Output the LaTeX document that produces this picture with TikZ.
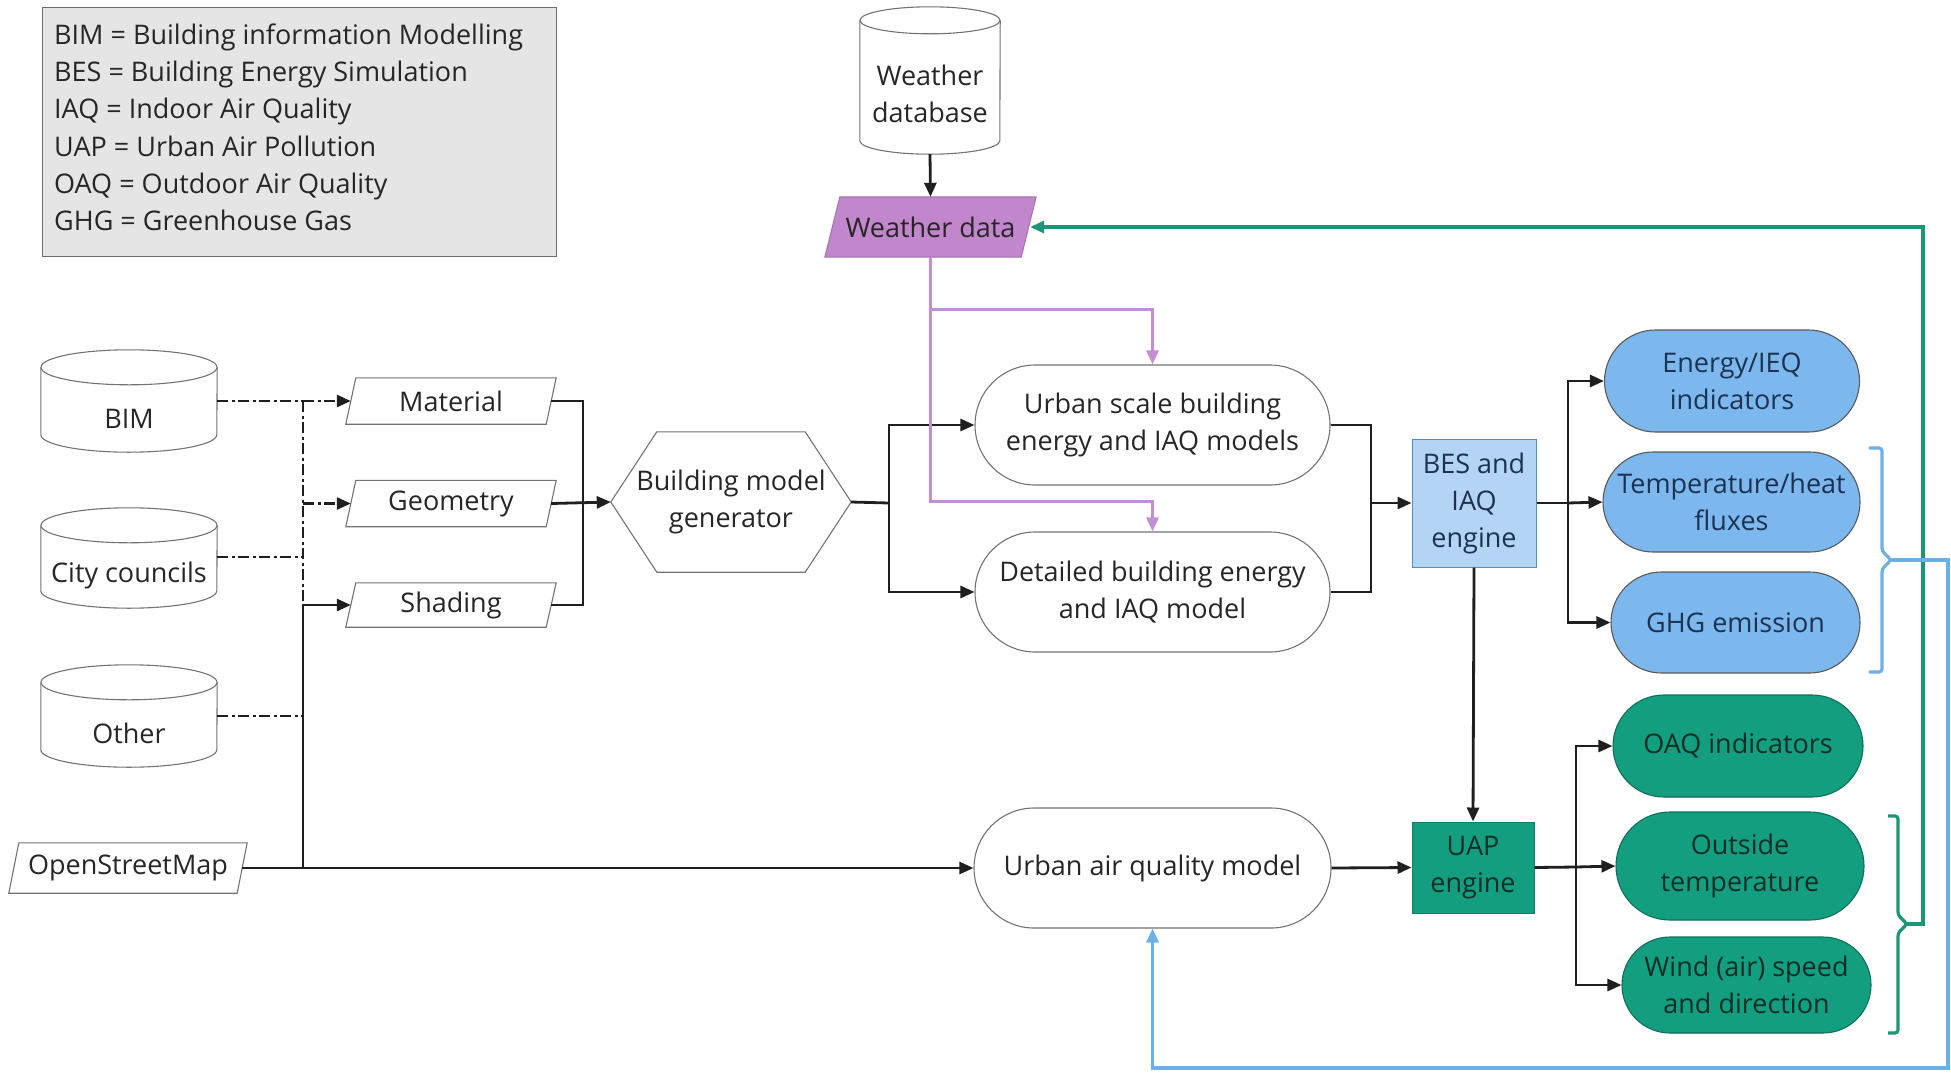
\documentclass[tikz,border=0pt]{standalone}
\usepackage{fontspec}
\setmainfont{Open Sans}
\usetikzlibrary{arrows.meta,shapes.misc,backgrounds}
\definecolor{txt}{RGB}{38,38,38}
\definecolor{legfill}{RGB}{229,229,229}
\definecolor{legdraw}{RGB}{110,110,110}
\definecolor{purpfill}{RGB}{193,134,204}
\definecolor{purpline}{RGB}{196,142,212}
\definecolor{bluefill}{RGB}{124,184,238}
\definecolor{bluebox}{RGB}{180,212,246}
\definecolor{blueline}{RGB}{108,176,232}
\definecolor{tealfill}{RGB}{20,158,128}
\definecolor{tealline}{RGB}{28,150,120}
\definecolor{graydraw}{RGB}{115,115,115}
\definecolor{bluetxt}{RGB}{28,50,80}
\definecolor{tealtxt}{RGB}{18,45,38}
\newcommand\drawcyl[3]{%
  \draw[cylline] ([yshift=#3]#1.north west) -- ([yshift=#3]#1.south west)
    arc[start angle=180,end angle=360,x radius=#2,y radius=#3]
    -- ([yshift=#3]#1.north east);
  \draw[cylline] ([yshift=#3]#1.north) ellipse[x radius=#2,y radius=#3];}
\newcommand\drawpara[3]{%
  \draw[#3] ([xshift=#2]#1.north west) -- (#1.north east) -- ([xshift=-#2]#1.south east) -- (#1.south west) -- cycle;}
\begin{document}
\begin{tikzpicture}[x=1pt,y=-1pt,
  every node/.style={font=\fontsize{27}{37}\selectfont, text=txt, inner sep=0pt, align=center},
  cylline/.style={draw=graydraw, line width=1.1pt},
  paraline/.style={draw=graydraw, line width=1.1pt},
  legtext/.style={anchor=base west, align=left},
  pill/.style={rounded rectangle, draw=graydraw, line width=1.1pt},
  bluepill/.style={rounded rectangle, draw=black!65, line width=1.1pt, fill=bluefill, text=bluetxt},
  tealpill/.style={rounded rectangle, draw=tealfill!70!black, line width=1.1pt, fill=tealfill, text=tealtxt},
  conn/.style={line width=2.8pt, draw=black!88},
  arr/.style={conn, -{Triangle[length=14pt,width=12pt]}},
  dd/.style={dash pattern=on 11pt off 3.5pt on 3pt off 3.5pt},
  purp/.style={line width=3pt, draw=purpline, -{Triangle[length=14pt,width=12pt]}},
  bluel/.style={line width=3.2pt, draw=blueline},
  teall/.style={line width=3.2pt, draw=tealline}]
\useasboundingbox (0,0) rectangle (1951,1074);

% legend
\node[draw=legdraw, fill=legfill, line width=1.4pt, minimum width=514, minimum height=249, anchor=north west] (legend) at (42,7) {};
\node[legtext] (leg1) at (54,44.3) {BIM = Building information Modelling};
\node[legtext] (leg2) at (54,81.6) {BES = Building Energy Simulation};
\node[legtext] (leg3) at (54,118.9) {IAQ = Indoor Air Quality};
\node[legtext] (leg4) at (54,156.2) {UAP = Urban Air Pollution};
\node[legtext] (leg5) at (54,193.5) {OAQ = Outdoor Air Quality};
\node[legtext] (leg6) at (54,230.8) {GHG = Greenhouse Gas};

% weather database and data
\node[minimum width=140, minimum height=120] (wdb) at (930,94) {Weather\\database};
\drawcyl{wdb}{70pt}{13.5pt}
\node[minimum width=211, minimum height=60] (wd) at (930.5,227) {Weather data};
\begin{scope}[on background layer]
\drawpara{wd}{15pt}{fill=purpfill, draw=purpfill!85!black, line width=1pt}
\end{scope}

% data sources
\node[minimum width=176, minimum height=67] (bim) at (129,418.5) {BIM};
\drawcyl{bim}{88pt}{17.5pt}
\node[minimum width=176, minimum height=65] (city) at (129,575.5) {City councils};
\drawcyl{city}{88pt}{17.5pt}
\node[minimum width=176, minimum height=67] (other) at (129,733.5) {Other};
\drawcyl{other}{88pt}{17.5pt}
\node[minimum width=238, minimum height=50] (osm) at (128,868) {OpenStreetMap};
\drawpara{osm}{10pt}{paraline}

% inputs
\node[minimum width=210, minimum height=46] (mat) at (451,401) {Material};
\drawpara{mat}{10pt}{paraline}
\node[minimum width=210, minimum height=46] (geo) at (451,503.5) {Geometry};
\drawpara{geo}{10pt}{paraline}
\node[minimum width=210, minimum height=44] (shd) at (451,605) {Shading};
\drawpara{shd}{10pt}{paraline}

% building model generator
\node[minimum width=240, minimum height=140] (bmg) at (731,502) {Building model\\generator};
\draw[paraline] (bmg.west) -- ([xshift=46pt]bmg.north west) -- ([xshift=-46pt]bmg.north east) -- (bmg.east) -- ([xshift=-46pt]bmg.south east) -- ([xshift=46pt]bmg.south west) -- cycle;

% models
\node[pill, minimum width=355, minimum height=120] (usb) at (1152.5,425) {Urban scale building\\energy and IAQ models};
\node[pill, minimum width=355, minimum height=120] (dbe) at (1152.5,592) {Detailed building energy\\and IAQ model};
\node[pill, minimum width=357, minimum height=120] (uaq) at (1152.5,868) {Urban air quality model};

% engines
\node[fill=bluebox, draw=blueline!80!black, line width=1pt, minimum width=124, minimum height=128, text=bluetxt] (bes) at (1474,503) {BES and\\IAQ\\engine};
\node[fill=tealfill, draw=tealfill!80!black, line width=1pt, minimum width=122, minimum height=91, text=tealtxt] (uap) at (1473,867.5) {UAP\\engine};

% outputs
\node[bluepill, minimum width=255, minimum height=102] (energy) at (1732,381) {Energy/IEQ\\indicators};
\node[bluepill, minimum width=257, minimum height=100] (temp) at (1731.5,502) {Temperature/heat\\fluxes};
\node[bluepill, minimum width=249, minimum height=101] (ghg) at (1735.5,622.5) {GHG emission};
\node[tealpill, minimum width=250, minimum height=102] (oaq) at (1738,746) {OAQ indicators};
\node[tealpill, minimum width=248, minimum height=108] (outside) at (1740,866) {Outside\\temperature};
\node[tealpill, minimum width=249, minimum height=96] (wind) at (1746.5,985) {Wind (air) speed\\and direction};

% junction coordinates
\coordinate (j1) at (303,401);
\coordinate (j2) at (583,503.5);
\coordinate (j3) at (889,503);
\coordinate (j4) at (1371,503);
\coordinate (j5) at (1568,503);
\coordinate (j6) at (1576,867);

% connectors
\draw[arr] (wdb.south) -- (wd.north);
\draw[conn, dd] (bim.east |- mat.west) -- (j1);
\draw[arr, dd] (j1) -- ([xshift=5pt]mat.west);
\draw[conn, dd] ([yshift=18.5pt]city.east) -- ([yshift=18.5pt]city.east -| j1);
\draw[conn, dd] ([yshift=17.5pt]other.east) -- ([yshift=17.5pt]other.east -| j1);
\draw[conn, dd] (j1) -- ([yshift=17.5pt]other.east -| j1);
\draw[arr, dd] (j1 |- geo.west) -- ([xshift=5pt]geo.west);
\draw[arr] (osm.east -| j1) |- ([xshift=5pt]shd.west);
\draw[arr] ([xshift=-5pt]osm.east) -- (uaq.west);
\draw[conn] ([xshift=-5pt]mat.east) -| (j2) |- ([xshift=-5pt]shd.east);
\draw[arr] ([xshift=-5pt]geo.east) -- (bmg.west);
\draw[conn] (bmg.east) -- (j3);
\draw[arr] (j3) |- (usb.west);
\draw[arr] (j3) |- (dbe.west);
\draw[conn] (usb.east) -| (j4) |- (dbe.east);
\draw[arr] (j4) -- (bes.west);
\draw[conn] (bes.east) -- (j5);
\draw[arr] (j5) |- (energy.west);
\draw[arr] (j5) -- (temp.west);
\draw[arr] (j5) |- (ghg.west);
\draw[arr] (bes.south) -- (uap.north);
\draw[arr] (uaq.east) -- (uap.west);
\draw[conn] (uap.east) -- (j6);
\draw[arr] (j6) |- (oaq.west);
\draw[arr] (j6) -- (outside.west);
\draw[arr] (j6) |- (wind.west);

% weather data to models (purple)
\draw[purp] (wd.south) |- ([yshift=55pt]usb.north) -- (usb.north);
\draw[purp] (wd.south) |- ([yshift=30pt]dbe.north) -- (dbe.north);

% braces and feedback loops
\coordinate (btip) at (1891,560);
\coordinate (gtip) at (1907,924);
\coordinate (gcorner) at (1923,227);
\coordinate (bcorner) at (1948,1068);
\draw[bluel, rounded corners=3pt] (1869,448) -- (1882,448) -- (1882,551) -- (btip) -- (1882,569) -- (1882,672) -- (1869,672);
\draw[teall, rounded corners=3pt] (1888,816) -- (1898,816) -- (1898,915) -- (gtip) -- (1898,933) -- (1898,1033) -- (1888,1033);
\draw[teall, -{Triangle[length=14pt,width=12pt]}] (gtip) -| (gcorner) -- ([xshift=-6pt]wd.east);
\draw[bluel, -{Triangle[length=14pt,width=12pt]}] (btip) -| (bcorner) -| (uaq.south);
\end{tikzpicture}
\end{document}
